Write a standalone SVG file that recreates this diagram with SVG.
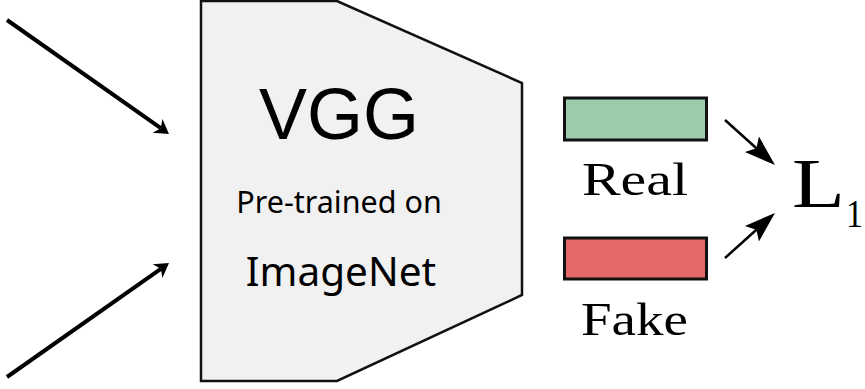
<svg xmlns="http://www.w3.org/2000/svg" width="865" height="389" viewBox="0 0 865 389">
  <style>
    .edge { stroke: #000; fill: none; }
    .sans { font-family: "Noto Sans", "DejaVu Sans", sans-serif; fill: #000; }
    .serif { font-family: "Liberation Serif", "DejaVu Serif", serif; fill: #000; }
    .box { stroke: #111; stroke-width: 3; }
  </style>
  <defs>
    <marker id="headSmall" viewBox="0 -10 16 20" markerWidth="16" markerHeight="20" refX="4" refY="0" orient="auto" markerUnits="userSpaceOnUse" overflow="visible">
      <path d="M0,-8.5 L14,0 L0,8.5 L4,0 Z" fill="#000"/>
    </marker>
    <marker id="headBig" viewBox="0 -11 32 22" markerWidth="32" markerHeight="22" refX="6" refY="0" orient="auto" markerUnits="userSpaceOnUse" overflow="visible">
      <path d="M0,-10.5 L31,0 L0,10.5 L6,0 Z" fill="#000"/>
    </marker>
  </defs>
  <rect width="865" height="389" fill="#fff"/>

  <!-- feature extractor -->
  <g id="vgg">
    <polygon points="201,1 337,1 522,83 522,295 337,381 201,381" fill="#f1f1f1" stroke="#111" stroke-width="2.5" stroke-linejoin="miter"/>
    <text x="339" y="139" text-anchor="middle" font-family="Liberation Sans, Arial, sans-serif" font-size="72">VGG</text>
    <text class="sans" x="339" y="213" text-anchor="middle" font-size="30.5">Pre-trained on</text>
    <text class="sans" x="341" y="286" text-anchor="middle" font-size="40.5">ImageNet</text>
  </g>

  <!-- real feature -->
  <g id="real">
    <rect class="box" x="564.5" y="98" width="142" height="42" fill="#9ccbab"/>
    <text class="serif" x="582" y="195" font-size="47" textLength="106" lengthAdjust="spacingAndGlyphs">Real</text>
  </g>

  <!-- fake feature -->
  <g id="fake">
    <rect class="box" x="564.5" y="238" width="142" height="41" fill="#e46868"/>
    <text class="serif" x="581" y="335" font-size="47" textLength="107" lengthAdjust="spacingAndGlyphs">Fake</text>
  </g>

  <!-- loss -->
  <g id="loss">
    <text class="serif" x="792" y="207" font-size="69" textLength="53" lengthAdjust="spacingAndGlyphs">L</text>
    <text class="serif" x="846" y="227" font-size="41" textLength="17" lengthAdjust="spacingAndGlyphs">1</text>
  </g>

  <!-- connectors -->
  <g id="connectors">
    <line class="edge" x1="7" y1="20" x2="160.8" y2="128.2" stroke-width="4" marker-end="url(#headSmall)"/>
    <line class="edge" x1="7" y1="377" x2="160.8" y2="268.8" stroke-width="4" marker-end="url(#headSmall)"/>
    <line class="edge" x1="725" y1="120" x2="756.4" y2="148.3" stroke-width="2.5" marker-end="url(#headBig)"/>
    <line class="edge" x1="725" y1="258" x2="756.4" y2="229.7" stroke-width="2.5" marker-end="url(#headBig)"/>
  </g>
</svg>
